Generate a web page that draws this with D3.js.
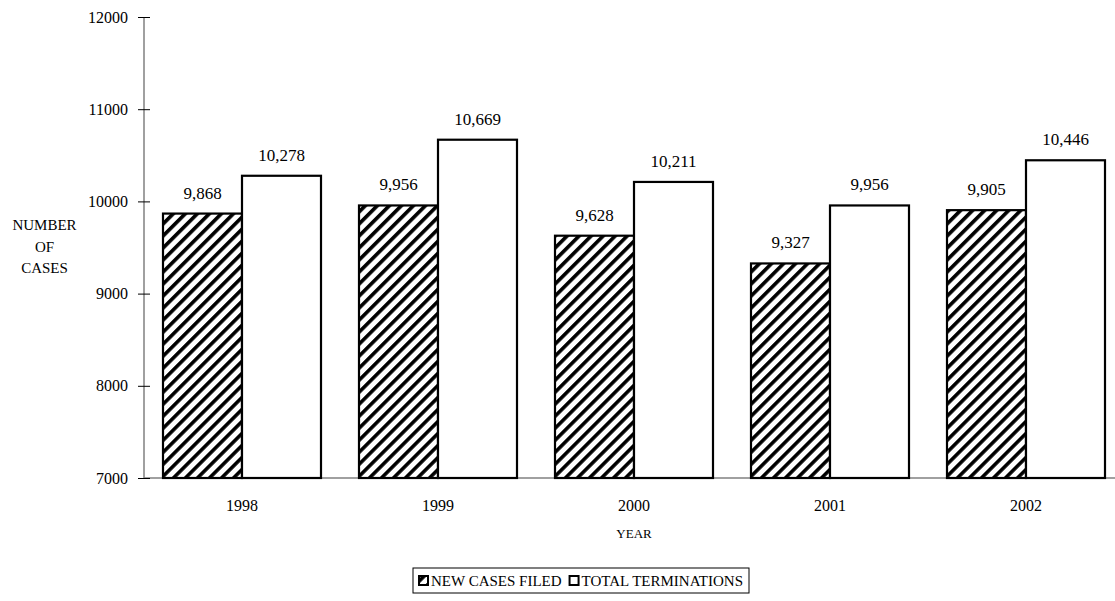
<!DOCTYPE html>
<html><head><meta charset="utf-8">
<script src="https://cdn.jsdelivr.net/npm/d3@7"></script>
<style>body{margin:0;background:#fff}svg{display:block}</style>
</head><body><svg id="c" width="1115" height="601"></svg>
<script>
const years = ["1998","1999","2000","2001","2002"];
const newCasesFiled = [9868, 9956, 9628, 9327, 9905];
const totalTerminations = [10278, 10669, 10211, 9956, 10446];
const seriesNames = ["NEW CASES FILED", "TOTAL TERMINATIONS"];
const yTicks = [7000, 8000, 9000, 10000, 11000, 12000];
const FONT = "'Liberation Serif'";

const svg = d3.select("#c");
const defs = svg.append("defs");
const pat = defs.append("pattern").attr("id","hatch").attr("patternUnits","userSpaceOnUse")
  .attr("width",8.5).attr("height",8.5).attr("patternTransform","rotate(45)");
pat.append("rect").attr("width",8.5).attr("height",8.5).attr("fill","#fff");
pat.append("rect").attr("x",0).attr("y",0).attr("width",3.6).attr("height",8.5).attr("fill","#000");

const x = d3.scaleBand().domain(years).range([144, 1124]).paddingInner(0).paddingOuter(0);
const inner = d3.scaleBand().domain([0,1]).range([19, x.bandwidth()-19]);
const y = d3.scaleLinear().domain([7000, 12000]).range([478, 17]);

// axes
svg.append("line").attr("x1",144).attr("x2",1124).attr("y1",y(7000)).attr("y2",y(7000)).attr("stroke","#808080").attr("stroke-width",1.5);
svg.append("line").attr("x1",144).attr("x2",144).attr("y1",y(7000)).attr("y2",y(12000)).attr("stroke","#808080").attr("stroke-width",1.5);
const yAxis = d3.axisLeft(y).tickValues(yTicks).tickFormat(d3.format("d")).tickSizeInner(0).tickSizeOuter(0).tickPadding(16);
const ga = svg.append("g").attr("transform","translate(144,0)").call(yAxis);
ga.select(".domain").remove();
ga.selectAll("text").style("font-family",FONT).style("font-size","16px").attr("fill","#000");
ga.selectAll(".tick").append("line").attr("x1",-6).attr("x2",6).attr("stroke","#000").attr("stroke-width",1);

// bars
const data = years.map((yr,i)=>({yr, vals:[newCasesFiled[i], totalTerminations[i]]}));
const groups = svg.append("g").selectAll("g").data(data).join("g").attr("transform",d=>`translate(${x(d.yr)},0)`);
groups.selectAll("rect").data(d=>d.vals.map((v,j)=>({v,j}))).join("rect")
  .attr("x",d=>inner(d.j)).attr("width",inner.bandwidth())
  .attr("y",d=>y(d.v)).attr("height",d=>y(7000)-y(d.v))
  .attr("fill",d=>d.j===0?"url(#hatch)":"#fff").attr("stroke","#000").attr("stroke-width",2.2);
groups.selectAll("text.v").data(d=>d.vals.map((v,j)=>({v,j}))).join("text").attr("class","v")
  .attr("x",d=>inner(d.j)+inner.bandwidth()/2).attr("y",d=>y(d.v)-15)
  .attr("text-anchor","middle").style("font-family",FONT).style("font-size","17px").text(d=>d3.format(",")(d.v));

// x labels
svg.append("g").selectAll("text").data(years).join("text")
  .attr("x",d=>x(d)+x.bandwidth()/2).attr("y",511).attr("text-anchor","middle")
  .style("font-family",FONT).style("font-size","16px").text(d=>d);
svg.append("text").attr("x",634).attr("y",538).attr("text-anchor","middle")
  .style("font-family",FONT).style("font-size","13px").text("YEAR");

// y label
["NUMBER","OF","CASES"].forEach((t,i)=>svg.append("text").attr("x",44.5).attr("y",230+i*21.5)
  .attr("text-anchor","middle").style("font-family",FONT).style("font-size","15px").text(t));

// legend
const lg = svg.append("g");
const items = lg.selectAll("g").data(seriesNames).join("g");
let cx = 419;
const ly = 581;
items.each(function(d,i){
  const g = d3.select(this);
  g.append("rect").attr("x",cx).attr("y",ly-5).attr("width",9).attr("height",9)
    .attr("fill", i===0?"url(#hatch)":"#fff").attr("stroke","#000").attr("stroke-width",2);
  const t = g.append("text").attr("x",cx+12).attr("y",ly+5).style("font-family",FONT).style("font-size","15px").text(d);
  cx = cx + 12 + t.node().getComputedTextLength() + 8;
});
lg.insert("rect",":first-child").attr("x",413).attr("y",568).attr("width",cx-413-2).attr("height",25)
  .attr("fill","#fff").attr("stroke","#000").attr("stroke-width",1);
</script></body></html>
